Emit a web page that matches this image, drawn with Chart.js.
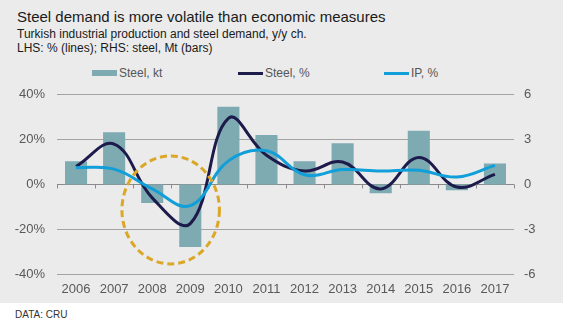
<!DOCTYPE html>
<html>
<head>
<meta charset="utf-8">
<script src="https://cdn.jsdelivr.net/npm/chart.js@4/dist/chart.umd.min.js"></script>
<style>
    body { margin: 0; background: #fff; font-family: "Liberation Sans", Arial, sans-serif; }
    #panel { position: relative; width: 563px; height: 303px; background: #ebebeb; overflow: hidden; }
    #title { position: absolute; left: 17px; top: 8px; font-size: 15px; color: #1a1a1a; white-space: nowrap; }
    #subtitle { position: absolute; left: 17px; top: 28px; font-size: 12px; line-height: 13.5px; color: #1a1a1a; white-space: nowrap; }
    #legend { position: absolute; left: 92px; top: 66px; display: flex; }
    #legend .item { width: 146px; display: flex; align-items: center; font-size: 12px; color: #555; height: 14px; }
    #legend .swatch { width: 25px; margin-right: 2px; }
    #chart { position: absolute; left: 0; top: 75px; }
    #source { position: absolute; left: 15px; top: 309px; font-size: 10px; color: #333; }
</style>
</head>
<body>
<div id="panel">
    <div id="title">Steel demand is more volatile than economic measures</div>
    <div id="subtitle">Turkish industrial production and steel demand, y/y ch.<br>LHS: % (lines); RHS: steel, Mt (bars)</div>
    <div id="legend"></div>
    <canvas id="chart" width="563" height="228"></canvas>
</div>
<div id="source">DATA: CRU</div>

<script>
// data
const years = ["2006", "2007", "2008", "2009", "2010", "2011", "2012", "2013", "2014", "2015", "2016", "2017"];
const steelKt = [1.55, 3.5, -1.25, -4.2, 5.2, 3.3, 1.55, 2.75, -0.6, 3.6, -0.4, 1.4];
const steelPct = [8, 18, -6, -17.5, 29.5, 13, 6, 10, -2, 12, -1.2, 4.5];
const ipPct = [7.5, 6.8, -2, -9.5, 10.5, 15, 4.3, 6.6, 6, 6.3, 3.3, 8.5];
const leftTicks = [-40, -20, 0, 20, 40];
const rightTicks = [-6, -3, 0, 3, 6];
const seriesNames = ["Steel, kt", "Steel, %", "IP, %"];

// highlighted 2008-09 area: centre (category index, % value), radii (categories, %)
const highlight = { x: 2.485, y: -11.4, rx: 1.28, ry: 24.1 };

const colBar = "#7eaab2";
const colSteel = "#1d1b4c";
const colIP = "#119fd9";
const fontFamily = "'Liberation Sans', Arial, sans-serif";

// html legend
let legend = document.querySelector("#legend");
[[colBar, 6], [colSteel, 3], [colIP, 3]].forEach(function(s, i) {
    let item = document.createElement("div");
    item.className = "item";
    let sw = document.createElement("div");
    sw.className = "swatch";
    sw.style.background = s[0];
    sw.style.height = s[1] + "px";
    item.appendChild(sw);
    item.appendChild(document.createTextNode(seriesNames[i]));
    legend.appendChild(item);
});

// ticks on the zero line and the dashed circle
const extras = {
    id: "extras",
    afterDatasetsDraw: function(chart) {
        let ctx = chart.ctx;
        let x = chart.scales.x, y = chart.scales.y;
        let y0 = y.getPixelForValue(0);
        ctx.save();
        ctx.strokeStyle = "#8a8a8a";
        ctx.lineWidth = 1;
        ctx.beginPath();
        for (let i = 0; i <= years.length; i++) {
            let px = Math.round(x.getPixelForValue(i - 0.5)) + 0.5;
            ctx.moveTo(px, y0);
            ctx.lineTo(px, y0 + 4);
        }
        ctx.stroke();

        let cx = x.getPixelForValue(highlight.x);
        let cy = y.getPixelForValue(highlight.y);
        let rx = x.getPixelForValue(highlight.x + highlight.rx) - cx;
        let ry = cy - y.getPixelForValue(highlight.y + highlight.ry);
        ctx.strokeStyle = "#dba726";
        ctx.lineWidth = 3;
        ctx.setLineDash([7, 4]);
        ctx.beginPath();
        ctx.ellipse(cx, cy, rx, ry, 0, 0, Math.PI * 2);
        ctx.stroke();
        ctx.restore();
    }
};

new Chart(document.querySelector("#chart").getContext("2d"), {
    data: {
        labels: years,
        datasets: [{
            type: "bar",
            label: seriesNames[0],
            data: steelKt,
            yAxisID: "y1",
            backgroundColor: colBar,
            barPercentage: 0.58,
            categoryPercentage: 1,
            order: 3
        }, {
            type: "line",
            label: seriesNames[1],
            data: steelPct,
            yAxisID: "y",
            borderColor: colSteel,
            borderWidth: 3,
            pointRadius: 0,
            tension: 0.4,
            order: 2
        }, {
            type: "line",
            label: seriesNames[2],
            data: ipPct,
            yAxisID: "y",
            borderColor: colIP,
            borderWidth: 3,
            pointRadius: 0,
            tension: 0.4,
            order: 1
        }]
    },
    options: {
        responsive: false,
        animation: false,
        devicePixelRatio: 1,
        layout: { padding: { top: 15, left: 0, right: 0, bottom: 0 } },
        plugins: {
            legend: { display: false },
            tooltip: { enabled: false }
        },
        scales: {
            x: {
                offset: true,
                grid: { display: false, drawTicks: false },
                border: { display: false },
                ticks: { color: "#595959", font: { family: fontFamily, size: 13 }, padding: 8, maxRotation: 0 },
                afterFit: function(scale) { scale.height = 29; }
            },
            y: {
                position: "left",
                min: -40,
                max: 40,
                afterBuildTicks: function(scale) {
                    scale.ticks = leftTicks.map(function(v) { return { value: v }; });
                },
                grid: {
                    drawTicks: false,
                    color: function(c) { return c.tick && c.tick.value === 0 ? "#8a8a8a" : "#a3a3a3"; }
                },
                border: { display: false },
                ticks: {
                    color: "#595959",
                    font: { family: fontFamily, size: 13 },
                    padding: 12,
                    callback: function(v) { return v + "%"; }
                },
                afterFit: function(scale) { scale.width = 57; }
            },
            y1: {
                position: "right",
                min: -6,
                max: 6,
                afterBuildTicks: function(scale) {
                    scale.ticks = rightTicks.map(function(v) { return { value: v }; });
                },
                grid: { display: false, drawTicks: false },
                border: { display: false },
                ticks: {
                    color: "#595959",
                    font: { family: fontFamily, size: 13 },
                    padding: 10,
                    callback: function(v) { return String(v); }
                },
                afterFit: function(scale) { scale.width = 49; }
            }
        }
    },
    plugins: [extras]
});
</script>
</body>
</html>
